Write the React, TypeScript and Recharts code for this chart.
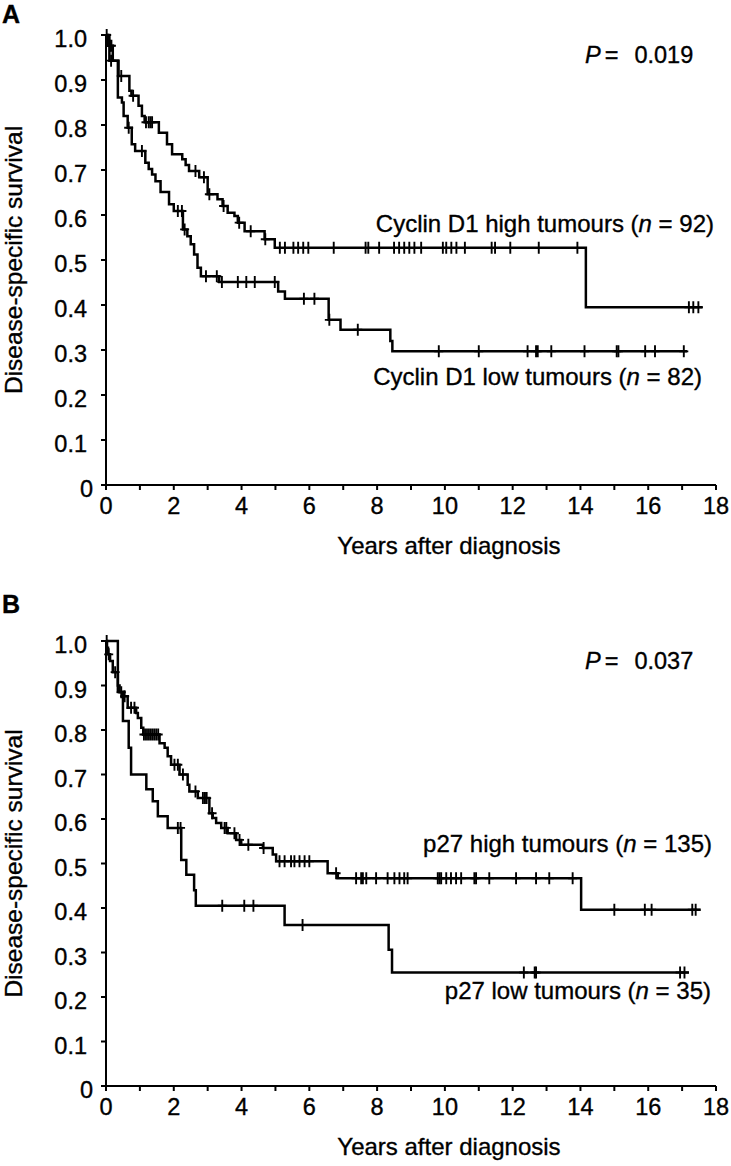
import React from 'react';
import { ComposedChart, Line, Scatter, XAxis, YAxis } from 'recharts';

const FONT = '"Liberation Sans", Arial, Helvetica, sans-serif';

// axis ticks
const yearTicks = [0, 1, 2, 3, 4, 5, 6, 7, 8, 9, 10, 11, 12, 13, 14, 15, 16, 17, 18];
const survivalTicks = [0, 0.1, 0.2, 0.3, 0.4, 0.5, 0.6, 0.7, 0.8, 0.9, 1.0];

// Panel A: Cyclin D1, steps as [years, survival]
const cyclinHighSteps = [
  [0, 1.0], [0.05, 0.976], [0.2, 0.943], [0.37, 0.909], [0.69, 0.876], [0.75, 0.865],
  [0.96, 0.843], [1.06, 0.82], [1.14, 0.806], [1.56, 0.783], [1.8, 0.757], [1.95, 0.735],
  [2.25, 0.724], [2.35, 0.711], [2.45, 0.698], [2.75, 0.684], [3.0, 0.646], [3.29, 0.635],
  [3.44, 0.62], [3.59, 0.605], [3.79, 0.598], [3.89, 0.583], [4.09, 0.564], [4.68, 0.546],
  [4.98, 0.527], [14.16, 0.395], [17.6, 0.395],
];
const cyclinHighCensored = [
  0.02, 0.12, 0.16, 0.45, 0.8, 1.18, 1.26, 1.31, 1.36, 2.64, 2.89, 3.05, 3.47, 3.93, 4.27, 4.7,
  5.13, 5.28, 5.53, 5.67, 5.82, 5.97, 6.72, 7.66, 7.74, 8.06, 8.5, 8.65, 8.8, 8.95, 9.1, 9.3,
  9.94, 10.04, 10.19, 10.34, 10.59, 11.38, 11.48, 11.93, 12.77, 13.91, 17.2, 17.33, 17.48,
];
const cyclinLowSteps = [
  [0, 1.0], [0.1, 0.943], [0.35, 0.861], [0.47, 0.85], [0.52, 0.82], [0.64, 0.794],
  [0.76, 0.757], [0.86, 0.742], [1.16, 0.716], [1.26, 0.702], [1.36, 0.69], [1.46, 0.675],
  [1.61, 0.651], [1.86, 0.624], [2.0, 0.609], [2.27, 0.568], [2.4, 0.553], [2.5, 0.535],
  [2.6, 0.512], [2.7, 0.483], [2.8, 0.464], [3.34, 0.451], [5.08, 0.43], [5.28, 0.414],
  [6.57, 0.367], [6.92, 0.345], [8.39, 0.32], [8.45, 0.297], [17.15, 0.297],
];
const cyclinLowCensored = [
  0.15, 0.67, 1.06, 2.12, 2.24, 2.32, 2.95, 3.27, 3.42, 3.89, 4.14, 4.39, 4.98, 5.84, 6.15,
  6.59, 7.43, 9.82, 11.0, 12.44, 12.69, 12.74, 13.14, 14.12, 15.07, 15.12, 15.91, 16.2, 17.05,
];

// Panel B: p27
const p27HighSteps = [
  [0, 1.0], [0.03, 0.985], [0.06, 0.97], [0.12, 0.955], [0.2, 0.93], [0.35, 0.9], [0.4, 0.885],
  [0.5, 0.876], [0.64, 0.85], [0.89, 0.838], [0.94, 0.827], [1.04, 0.805], [1.1, 0.79],
  [1.58, 0.77], [1.73, 0.76], [1.82, 0.741], [1.92, 0.722], [2.17, 0.7], [2.41, 0.677],
  [2.46, 0.662], [2.71, 0.647], [3.05, 0.613], [3.15, 0.602], [3.25, 0.591], [3.4, 0.58],
  [3.59, 0.568], [3.84, 0.553], [3.99, 0.542], [4.63, 0.535], [4.92, 0.52], [5.02, 0.505],
  [6.54, 0.478], [6.84, 0.467], [14.02, 0.396], [17.55, 0.396],
];
const p27HighCensored = [
  0.02, 0.08, 0.27, 0.45, 0.55, 0.74, 0.84, 1.12, 1.18, 1.24, 1.3, 1.36, 1.42, 1.48, 1.54,
  2.02, 2.12, 2.27, 2.64, 2.86, 2.92, 2.97, 3.13, 3.5, 3.55, 3.79, 3.94, 4.2, 4.65, 5.12, 5.27,
  5.46, 5.56, 5.71, 5.86, 6.0, 6.79, 7.38, 7.53, 7.58, 7.68, 7.97, 8.31, 8.51, 8.66, 8.8, 8.9,
  9.79, 9.84, 9.89, 10.04, 10.18, 10.33, 10.48, 10.87, 10.92, 11.31, 12.1, 12.69, 13.08, 13.77,
  15.0, 15.9, 16.1, 17.3, 17.4,
];
const p27LowSteps = [
  [0, 1.0], [0.35, 0.886], [0.5, 0.82], [0.67, 0.76], [0.74, 0.7], [1.19, 0.667], [1.38, 0.64],
  [1.53, 0.606], [1.82, 0.58], [2.22, 0.508], [2.37, 0.475], [2.6, 0.44], [2.65, 0.405],
  [5.27, 0.362], [8.34, 0.306], [8.44, 0.255], [17.2, 0.255],
];
const p27LowCensored = [2.12, 2.2, 3.43, 4.08, 4.35, 5.8, 12.33, 12.65, 12.69, 16.94, 17.07];

const toPoints = (steps: number[][]) => steps.map(([t, s]) => ({ t, s }));

// a censored case sits on the curve level in force at its time
const levelAt = (steps: number[][], t: number) => {
  let s = steps[0][1];
  for (const [ti, si] of steps) if (ti <= t) s = si;
  return s;
};
const toCensorPoints = (steps: number[][], times: number[]) =>
  times.map((t) => ({ t, s: levelAt(steps, t) }));

const axisStyle = { stroke: '#000', strokeWidth: 2 };
// scanned print looks a bit heavier than plain Arial
const ink = { fontFamily: FONT, fill: '#000', stroke: '#000', strokeWidth: 0.35 };

const YearTick = ({ x, y, payload }: any) => {
  if (payload.value % 2 !== 0) return <g />;
  return (
    <text x={x} y={y + 24} textAnchor="middle" fontSize={23.5} {...ink}>
      {payload.value}
    </text>
  );
};

const SurvivalTick = ({ x, y, payload }: any) => {
  const v = payload.value;
  const label = v === 0 ? '0' : v.toFixed(1);
  return (
    <text x={v === 0 ? x - 8 : x - 14} y={y + 12} textAnchor="end" fontSize={23.5} {...ink}>
      {label}
    </text>
  );
};

const CensorMark = ({ cx, cy }: any) => (
  <path d={`M${cx},${cy - 6}V${cy + 6}M${cx - 4.5},${cy}H${cx + 4.5}`} stroke="#000" strokeWidth={1.9} fill="none" />
);

function Panel({ offset, height, top, plotH, hiSteps, hiCens, loSteps, loCens, text }: any) {
  const t = text;
  // annotation y values are page coordinates, shifted into this chart
  const ly = (y: number) => y - offset;
  return (
    <div style={{ position: 'absolute', left: 0, top: offset }}>
      <ComposedChart width={731} height={height} margin={{ top, right: 15, bottom: 0, left: 0 }}>
        <XAxis
          type="number"
          dataKey="t"
          domain={[0, 18]}
          ticks={yearTicks}
          interval={0}
          tickSize={5}
          tickMargin={0}
          axisLine={axisStyle}
          tickLine={axisStyle}
          tick={<YearTick />}
          height={height - top - plotH}
        />
        <YAxis
          type="number"
          domain={[0, 1]}
          ticks={survivalTicks}
          interval={0}
          width={106}
          tickSize={5}
          tickMargin={0}
          axisLine={axisStyle}
          tickLine={axisStyle}
          tick={<SurvivalTick />}
        />
        <Line data={toPoints(hiSteps)} dataKey="s" type="stepAfter" stroke="#000" strokeWidth={2.5} dot={false} isAnimationActive={false} />
        <Line data={toPoints(loSteps)} dataKey="s" type="stepAfter" stroke="#000" strokeWidth={2.5} dot={false} isAnimationActive={false} />
        <Scatter data={toCensorPoints(hiSteps, hiCens)} dataKey="s" shape={<CensorMark />} isAnimationActive={false} />
        <Scatter data={toCensorPoints(loSteps, loCens)} dataKey="s" shape={<CensorMark />} isAnimationActive={false} />

        <text x={2} y={ly(t.letterY)} fontSize={25} fontWeight="bold" {...ink}>{t.letter}</text>
        <text x={585} y={top + 28} fontSize={23.5} {...ink}>
          <tspan fontStyle="italic">P</tspan>
          <tspan dx={4}>=</tspan>
          <tspan dx={16}>{t.p}</tspan>
        </text>
        <text x={t.hiX} y={ly(t.hiY)} textAnchor="end" fontSize={24} {...ink}>
          {t.hiName} (<tspan fontStyle="italic">n</tspan> = {t.hiN})
        </text>
        <text x={t.loX} y={ly(t.loY)} textAnchor="end" fontSize={24} {...ink}>
          {t.loName} (<tspan fontStyle="italic">n</tspan> = {t.loN})
        </text>
        <text x={449} y={top + plotH + 69} textAnchor="middle" fontSize={24} {...ink}>
          Years after diagnosis
        </text>
        <text transform={`translate(22, ${top + plotH / 2}) rotate(-90)`} textAnchor="middle" fontSize={24.5} {...ink}>
          Disease-specific survival
        </text>
      </ComposedChart>
    </div>
  );
}

export default function App() {
  return (
    <div style={{ position: 'absolute', left: 0, top: 0, width: 731, height: 1166, background: '#fff' }}>
      <Panel
        offset={0}
        height={575}
        top={35}
        plotH={450}
        hiSteps={cyclinHighSteps}
        hiCens={cyclinHighCensored}
        loSteps={cyclinLowSteps}
        loCens={cyclinLowCensored}
        text={{
          letter: 'A', letterY: 23, p: '0.019',
          hiName: 'Cyclin D1 high tumours', hiN: 92, hiX: 714, hiY: 232,
          loName: 'Cyclin D1 low tumours', loN: 82, loX: 702, loY: 385,
        }}
      />
      <Panel
        offset={575}
        height={591}
        top={66}
        plotH={445}
        hiSteps={p27HighSteps}
        hiCens={p27HighCensored}
        loSteps={p27LowSteps}
        loCens={p27LowCensored}
        text={{
          letter: 'B', letterY: 613, p: '0.037',
          hiName: 'p27 high tumours', hiN: 135, hiX: 712, hiY: 852,
          loName: 'p27 low tumours', loN: 35, loX: 711, loY: 999,
        }}
      />
    </div>
  );
}
